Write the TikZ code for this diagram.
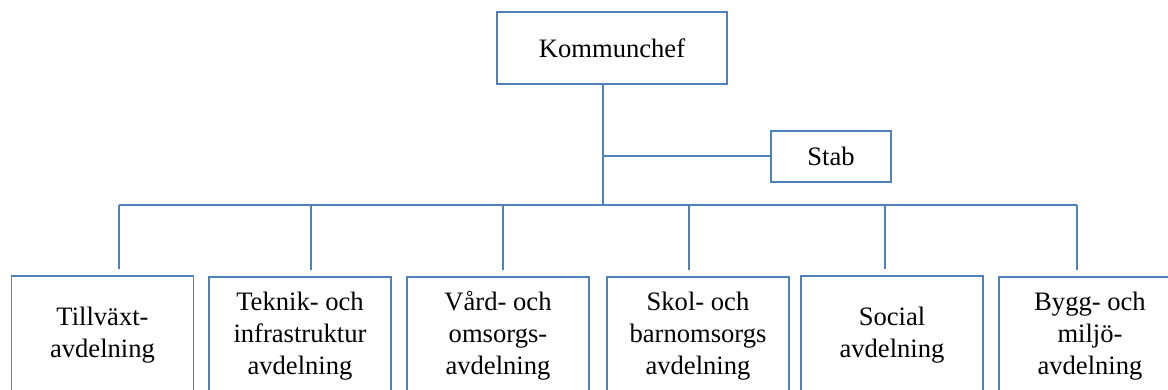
\documentclass[tikz,border=0pt]{standalone}
\usepackage{fontspec}
\setmainfont{Liberation Serif}
\definecolor{lc}{HTML}{4F81BD}
\begin{document}
\begin{tikzpicture}[x=0.5pt,y=-0.5pt,
  box/.style={draw=lc, line width=0.8pt, fill=white, inner sep=0pt, align=center,
    font=\fontsize{13.3}{16}\selectfont},
  unit/.style={box, minimum width=91pt, minimum height=59pt},
  link/.style={draw=lc, line width=1pt}]
\useasboundingbox (0,0) rectangle (1168,390);
\clip (0,0) rectangle (1168,390);
\node[box, minimum width=115pt, minimum height=36pt] (k) at (612,48) {Kommunchef};
\node[box, minimum width=60pt, minimum height=25.5pt] (s) at (831,156.5) {Stab};
\node[unit] (b1) at (102.5,335) {Tillväxt-\\avdelning};
\node[unit] (b2) at (300,336) {Teknik- och\\infrastruktur\\avdelning};
\node[unit] (b3) at (498,336) {Vård- och\\omsorgs-\\avdelning};
\node[unit] (b4) at (698,336) {Skol- och\\barnomsorgs\\avdelning};
\node[unit] (b5) at (892,335) {Social\\avdelning};
\node[unit] (b6) at (1090,336) {Bygg- och\\miljö-\\avdelning};
\coordinate (tr) at (603,205);
\coordinate (t1) at (119,205);
\coordinate (t2) at (311,205);
\coordinate (t3) at (503,205);
\coordinate (t4) at (689,205);
\coordinate (t5) at (885,205);
\coordinate (t6) at (1077,205);
\draw[link] (k.south -| tr) -- (tr);
\draw[link] (tr |- s.west) -- (s.west);
\draw[link] (t1) -- (t6);
\foreach \i in {1,...,6}{
  \draw[link, shorten >=3pt] (t\i) -- (t\i |- b\i.north);
}
\end{tikzpicture}
\end{document}
